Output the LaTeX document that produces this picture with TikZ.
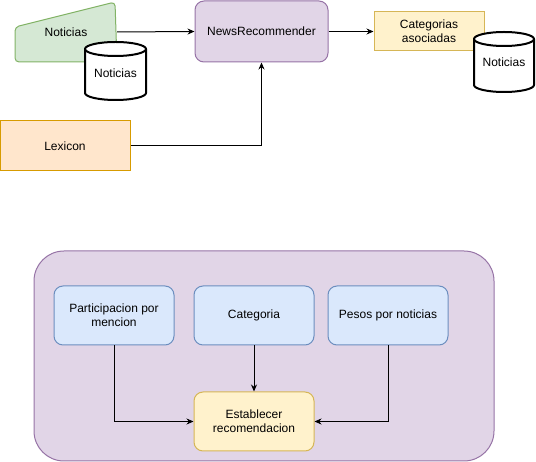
\documentclass[tikz,border=0pt]{standalone}
\usepackage{fontspec}
\setmainfont{Liberation Sans}
\usetikzlibrary{arrows.meta}
\definecolor{greenfill}{HTML}{D5E8D4}
\definecolor{greenline}{HTML}{82B366}
\definecolor{purplefill}{HTML}{E1D5E7}
\definecolor{purpleline}{HTML}{9673A6}
\definecolor{yellowfill}{HTML}{FFF2CC}
\definecolor{yellowline}{HTML}{D6B656}
\definecolor{orangefill}{HTML}{FFE6CC}
\definecolor{orangeline}{HTML}{D79B00}
\definecolor{bluefill}{HTML}{DAE8FC}
\definecolor{blueline}{HTML}{6C8EBF}
\tikzset{
  box/.style={draw, line width=1pt, align=center, font=\fontsize{12}{14}\selectfont},
  dbcyl/.style={draw, fill=white, line width=2pt},
  flow/.style={-{Stealth[length=7pt,width=6pt]}, line width=1pt}
}
\begin{document}
\begin{tikzpicture}[x=1pt,y=-1pt]
\useasboundingbox (0,0) rectangle (536,462);
% top part
\draw[line width=1pt, rounded corners=4pt, fill=greenfill, draw=greenline] (15,27)--(115,2)--(117,62)--(15,62)--cycle;
\node[font=\fontsize{12}{14}\selectfont, minimum width=102pt, minimum height=20pt] (newsin) at (66,32) {Noticias};
\draw[dbcyl] (85,49)--(85,93) arc[start angle=180,end angle=0,x radius=30.5,y radius=7]--(146,49) arc[start angle=0,end angle=-180,x radius=30.5,y radius=7]--cycle;
\draw[line width=2pt] (85,49) arc[start angle=180,end angle=0,x radius=30.5,y radius=7];
\node[font=\fontsize{12}{14}\selectfont] (newsdb) at (115.5,73) {Noticias};

\node[box, rounded corners=9pt, fill=purplefill, draw=purpleline, minimum width=133pt, minimum height=61pt] (rec) at (261.5,31.5) {NewsRecommender};
\node[box, fill=yellowfill, draw=yellowline, minimum width=110pt, minimum height=39pt] (cats) at (429,31.5) {Categorias\\asociadas};
\draw[dbcyl] (474,39)--(474,85) arc[start angle=180,end angle=0,x radius=30,y radius=7]--(534,39) arc[start angle=0,end angle=-180,x radius=30,y radius=7]--cycle;
\draw[line width=2pt] (474,39) arc[start angle=180,end angle=0,x radius=30,y radius=7];
\node[font=\fontsize{12}{14}\selectfont] (newsout) at (504,62) {Noticias};
\node[box, fill=orangefill, draw=orangeline, minimum width=130pt, minimum height=50pt] (lex) at (65,146) {Lexicon};

\draw[flow] (newsin.east)--(rec.west);
\draw[flow] (rec.east)--(cats.west);
\draw[flow] (lex.east)-|(rec.south);

% bottom part
\node[box, rounded corners=30pt, fill=purplefill, draw=purpleline, minimum width=460pt, minimum height=210pt] (frame) at (264,356) {};
\node[box, rounded corners=9pt, fill=bluefill, draw=blueline, minimum width=120pt, minimum height=59pt] (part) at (114,315.5) {Participacion por\\mencion};
\node[box, rounded corners=9pt, fill=bluefill, draw=blueline, minimum width=120pt, minimum height=59pt] (cat) at (254,315.5) {Categoria};
\node[box, rounded corners=9pt, fill=bluefill, draw=blueline, minimum width=120pt, minimum height=59pt] (pesos) at (388,315.5) {Pesos por noticias};
\node[box, rounded corners=9pt, fill=yellowfill, draw=yellowline, minimum width=120pt, minimum height=59pt] (est) at (254,421.5) {Establecer\\recomendacion};

\draw[flow] (part.south)|-(est.west);
\draw[flow] (cat.south)--(est.north);
\draw[flow] (pesos.south)|-(est.east);
\end{tikzpicture}
\end{document}
